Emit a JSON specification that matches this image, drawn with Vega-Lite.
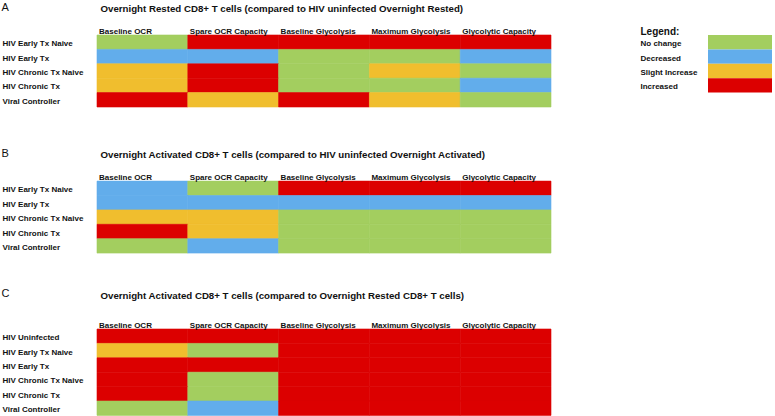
{
  "$schema": "https://vega.github.io/schema/vega-lite/v6.json",
  "background": "white",
  "padding": {"left": 1, "top": 1, "right": 0, "bottom": 0},
  "config": {
    "view": {"stroke": null},
    "font": "Liberation Sans",
    "axis": {"domain": false, "ticks": false, "grid": false, "labelFont": "Liberation Sans", "labelFontSize": 8, "labelFontWeight": "bold", "labelColor": "#111", "titleFont": "Liberation Sans", "titleColor": "#111"},
    "rect": {"strokeWidth": 0.6}
  },
  "datasets": {
    "rested": [
      {"group": "HIV Early Tx Naive", "metric": "Baseline OCR", "status": "No change"},
      {"group": "HIV Early Tx Naive", "metric": "Spare OCR Capacity", "status": "Increased"},
      {"group": "HIV Early Tx Naive", "metric": "Baseline Glycolysis", "status": "Increased"},
      {"group": "HIV Early Tx Naive", "metric": "Maximum Glycolysis", "status": "Increased"},
      {"group": "HIV Early Tx Naive", "metric": "Glycolytic Capacity", "status": "Increased"},
      {"group": "HIV Early Tx", "metric": "Baseline OCR", "status": "Decreased"},
      {"group": "HIV Early Tx", "metric": "Spare OCR Capacity", "status": "Decreased"},
      {"group": "HIV Early Tx", "metric": "Baseline Glycolysis", "status": "No change"},
      {"group": "HIV Early Tx", "metric": "Maximum Glycolysis", "status": "No change"},
      {"group": "HIV Early Tx", "metric": "Glycolytic Capacity", "status": "Decreased"},
      {"group": "HIV Chronic Tx Naive", "metric": "Baseline OCR", "status": "Slight Increase"},
      {"group": "HIV Chronic Tx Naive", "metric": "Spare OCR Capacity", "status": "Increased"},
      {"group": "HIV Chronic Tx Naive", "metric": "Baseline Glycolysis", "status": "No change"},
      {"group": "HIV Chronic Tx Naive", "metric": "Maximum Glycolysis", "status": "Slight Increase"},
      {"group": "HIV Chronic Tx Naive", "metric": "Glycolytic Capacity", "status": "No change"},
      {"group": "HIV Chronic Tx", "metric": "Baseline OCR", "status": "Slight Increase"},
      {"group": "HIV Chronic Tx", "metric": "Spare OCR Capacity", "status": "Increased"},
      {"group": "HIV Chronic Tx", "metric": "Baseline Glycolysis", "status": "No change"},
      {"group": "HIV Chronic Tx", "metric": "Maximum Glycolysis", "status": "No change"},
      {"group": "HIV Chronic Tx", "metric": "Glycolytic Capacity", "status": "Decreased"},
      {"group": "Viral Controller", "metric": "Baseline OCR", "status": "Increased"},
      {"group": "Viral Controller", "metric": "Spare OCR Capacity", "status": "Slight Increase"},
      {"group": "Viral Controller", "metric": "Baseline Glycolysis", "status": "Increased"},
      {"group": "Viral Controller", "metric": "Maximum Glycolysis", "status": "Slight Increase"},
      {"group": "Viral Controller", "metric": "Glycolytic Capacity", "status": "No change"}
    ],
    "activated": [
      {"group": "HIV Early Tx Naive", "metric": "Baseline OCR", "status": "Decreased"},
      {"group": "HIV Early Tx Naive", "metric": "Spare OCR Capacity", "status": "No change"},
      {"group": "HIV Early Tx Naive", "metric": "Baseline Glycolysis", "status": "Increased"},
      {"group": "HIV Early Tx Naive", "metric": "Maximum Glycolysis", "status": "Increased"},
      {"group": "HIV Early Tx Naive", "metric": "Glycolytic Capacity", "status": "Increased"},
      {"group": "HIV Early Tx", "metric": "Baseline OCR", "status": "Decreased"},
      {"group": "HIV Early Tx", "metric": "Spare OCR Capacity", "status": "Decreased"},
      {"group": "HIV Early Tx", "metric": "Baseline Glycolysis", "status": "Decreased"},
      {"group": "HIV Early Tx", "metric": "Maximum Glycolysis", "status": "Decreased"},
      {"group": "HIV Early Tx", "metric": "Glycolytic Capacity", "status": "Decreased"},
      {"group": "HIV Chronic Tx Naive", "metric": "Baseline OCR", "status": "Slight Increase"},
      {"group": "HIV Chronic Tx Naive", "metric": "Spare OCR Capacity", "status": "Slight Increase"},
      {"group": "HIV Chronic Tx Naive", "metric": "Baseline Glycolysis", "status": "No change"},
      {"group": "HIV Chronic Tx Naive", "metric": "Maximum Glycolysis", "status": "No change"},
      {"group": "HIV Chronic Tx Naive", "metric": "Glycolytic Capacity", "status": "No change"},
      {"group": "HIV Chronic Tx", "metric": "Baseline OCR", "status": "Increased"},
      {"group": "HIV Chronic Tx", "metric": "Spare OCR Capacity", "status": "Slight Increase"},
      {"group": "HIV Chronic Tx", "metric": "Baseline Glycolysis", "status": "No change"},
      {"group": "HIV Chronic Tx", "metric": "Maximum Glycolysis", "status": "No change"},
      {"group": "HIV Chronic Tx", "metric": "Glycolytic Capacity", "status": "No change"},
      {"group": "Viral Controller", "metric": "Baseline OCR", "status": "No change"},
      {"group": "Viral Controller", "metric": "Spare OCR Capacity", "status": "Decreased"},
      {"group": "Viral Controller", "metric": "Baseline Glycolysis", "status": "No change"},
      {"group": "Viral Controller", "metric": "Maximum Glycolysis", "status": "No change"},
      {"group": "Viral Controller", "metric": "Glycolytic Capacity", "status": "No change"}
    ],
    "actvsrest": [
      {"group": "HIV Uninfected", "metric": "Baseline OCR", "status": "Increased"},
      {"group": "HIV Uninfected", "metric": "Spare OCR Capacity", "status": "Increased"},
      {"group": "HIV Uninfected", "metric": "Baseline Glycolysis", "status": "Increased"},
      {"group": "HIV Uninfected", "metric": "Maximum Glycolysis", "status": "Increased"},
      {"group": "HIV Uninfected", "metric": "Glycolytic Capacity", "status": "Increased"},
      {"group": "HIV Early Tx Naive", "metric": "Baseline OCR", "status": "Slight Increase"},
      {"group": "HIV Early Tx Naive", "metric": "Spare OCR Capacity", "status": "No change"},
      {"group": "HIV Early Tx Naive", "metric": "Baseline Glycolysis", "status": "Increased"},
      {"group": "HIV Early Tx Naive", "metric": "Maximum Glycolysis", "status": "Increased"},
      {"group": "HIV Early Tx Naive", "metric": "Glycolytic Capacity", "status": "Increased"},
      {"group": "HIV Early Tx", "metric": "Baseline OCR", "status": "Increased"},
      {"group": "HIV Early Tx", "metric": "Spare OCR Capacity", "status": "Increased"},
      {"group": "HIV Early Tx", "metric": "Baseline Glycolysis", "status": "Increased"},
      {"group": "HIV Early Tx", "metric": "Maximum Glycolysis", "status": "Increased"},
      {"group": "HIV Early Tx", "metric": "Glycolytic Capacity", "status": "Increased"},
      {"group": "HIV Chronic Tx Naive", "metric": "Baseline OCR", "status": "Increased"},
      {"group": "HIV Chronic Tx Naive", "metric": "Spare OCR Capacity", "status": "No change"},
      {"group": "HIV Chronic Tx Naive", "metric": "Baseline Glycolysis", "status": "Increased"},
      {"group": "HIV Chronic Tx Naive", "metric": "Maximum Glycolysis", "status": "Increased"},
      {"group": "HIV Chronic Tx Naive", "metric": "Glycolytic Capacity", "status": "Increased"},
      {"group": "HIV Chronic Tx", "metric": "Baseline OCR", "status": "Increased"},
      {"group": "HIV Chronic Tx", "metric": "Spare OCR Capacity", "status": "No change"},
      {"group": "HIV Chronic Tx", "metric": "Baseline Glycolysis", "status": "Increased"},
      {"group": "HIV Chronic Tx", "metric": "Maximum Glycolysis", "status": "Increased"},
      {"group": "HIV Chronic Tx", "metric": "Glycolytic Capacity", "status": "Increased"},
      {"group": "Viral Controller", "metric": "Baseline OCR", "status": "No change"},
      {"group": "Viral Controller", "metric": "Spare OCR Capacity", "status": "Decreased"},
      {"group": "Viral Controller", "metric": "Baseline Glycolysis", "status": "Increased"},
      {"group": "Viral Controller", "metric": "Maximum Glycolysis", "status": "Increased"},
      {"group": "Viral Controller", "metric": "Glycolytic Capacity", "status": "Increased"}
    ],
    "legend": [
      {"status": "No change"},
      {"status": "Decreased"},
      {"status": "Slight Increase"},
      {"status": "Increased"}
    ]
  },
  "vconcat": [
    {
      "hconcat": [
        {
          "data": {"name": "rested"},
          "width": 454,
          "height": 72,
          "mark": "rect",
          "encoding": {
            "x": {"field": "metric", "type": "nominal", "sort": ["Baseline OCR", "Spare OCR Capacity", "Baseline Glycolysis", "Maximum Glycolysis", "Glycolytic Capacity"],
              "axis": {"orient": "top", "labelAngle": 0, "labelAlign": "left", "labelOffset": -43.4, "labelPadding": 0,
                "title": "Overnight Rested CD8+ T cells (compared to HIV uninfected Overnight Rested)", "titleFontSize": 9.7, "titleFontWeight": "bold", "titleAlign": "left", "titleAnchor": "start", "titleX": 3, "titleY": -27, "titleBaseline": "middle"}},
            "y": {"field": "group", "type": "nominal", "sort": ["HIV Early Tx Naive", "HIV Early Tx", "HIV Chronic Tx Naive", "HIV Chronic Tx", "Viral Controller"],
              "axis": {"labelAlign": "left", "labelPadding": 95, "labelOffset": 2, "title": "A", "titleAngle": 0, "titleX": -96, "titleY": -28, "titleAlign": "left", "titleBaseline": "middle", "titleFontSize": 11, "titleFontWeight": "normal"}},
            "color": {"field": "status", "type": "nominal", "scale": {"domain": ["No change", "Decreased", "Slight Increase", "Increased"], "range": ["#a3ce5f", "#62adeb", "#f0be2e", "#dc0000"]}, "legend": null},
            "stroke": {"field": "status", "type": "nominal", "scale": {"domain": ["No change", "Decreased", "Slight Increase", "Increased"], "range": ["#a3ce5f", "#62adeb", "#f0be2e", "#dc0000"]}, "legend": null}
          }
        },
        {
          "data": {"name": "legend"},
          "width": 64,
          "height": 57.6,
          "mark": "rect",
          "encoding": {
            "y": {"field": "status", "type": "nominal", "sort": ["No change", "Decreased", "Slight Increase", "Increased"],
              "axis": {"labelAlign": "left", "labelPadding": 68, "labelOffset": 2, "title": "Legend:", "titleAngle": 0, "titleX": -68, "titleY": -1, "titleAlign": "left", "titleBaseline": "alphabetic", "titleFontSize": 10, "titleFontWeight": "bold"}},
            "color": {"field": "status", "type": "nominal", "scale": {"domain": ["No change", "Decreased", "Slight Increase", "Increased"], "range": ["#a3ce5f", "#62adeb", "#f0be2e", "#dc0000"]}, "legend": null}
          }
        }
      ],
      "bounds": "flush",
      "spacing": 157
    },
    {
      "vconcat": [
        {
          "data": {"name": "activated"},
          "width": 454,
          "height": 72,
          "mark": "rect",
          "encoding": {
            "x": {"field": "metric", "type": "nominal", "sort": ["Baseline OCR", "Spare OCR Capacity", "Baseline Glycolysis", "Maximum Glycolysis", "Glycolytic Capacity"],
              "axis": {"orient": "top", "labelAngle": 0, "labelAlign": "left", "labelOffset": -43.4, "labelPadding": 0,
                "title": "Overnight Activated CD8+ T cells (compared to HIV uninfected Overnight Activated)", "titleFontSize": 9.7, "titleFontWeight": "bold", "titleAlign": "left", "titleAnchor": "start", "titleX": 3, "titleY": -26.4, "titleBaseline": "middle"}},
            "y": {"field": "group", "type": "nominal", "sort": ["HIV Early Tx Naive", "HIV Early Tx", "HIV Chronic Tx Naive", "HIV Chronic Tx", "Viral Controller"],
              "axis": {"labelAlign": "left", "labelPadding": 95, "labelOffset": 2, "title": "B", "titleAngle": 0, "titleX": -96, "titleY": -27.3, "titleAlign": "left", "titleBaseline": "middle", "titleFontSize": 11, "titleFontWeight": "normal"}},
            "color": {"field": "status", "type": "nominal", "scale": {"domain": ["No change", "Decreased", "Slight Increase", "Increased"], "range": ["#a3ce5f", "#62adeb", "#f0be2e", "#dc0000"]}, "legend": null},
            "stroke": {"field": "status", "type": "nominal", "scale": {"domain": ["No change", "Decreased", "Slight Increase", "Increased"], "range": ["#a3ce5f", "#62adeb", "#f0be2e", "#dc0000"]}, "legend": null}
          }
        },
        {
          "data": {"name": "actvsrest"},
          "width": 454,
          "height": 86.4,
          "mark": "rect",
          "encoding": {
            "x": {"field": "metric", "type": "nominal", "sort": ["Baseline OCR", "Spare OCR Capacity", "Baseline Glycolysis", "Maximum Glycolysis", "Glycolytic Capacity"],
              "axis": {"orient": "top", "labelAngle": 0, "labelAlign": "left", "labelOffset": -43.4, "labelPadding": 0,
                "title": "Overnight Activated CD8+ T cells (compared to Overnight Rested CD8+ T cells)", "titleFontSize": 9.7, "titleFontWeight": "bold", "titleAlign": "left", "titleAnchor": "start", "titleX": 3, "titleY": -33.4, "titleBaseline": "middle"}},
            "y": {"field": "group", "type": "nominal", "sort": ["HIV Uninfected", "HIV Early Tx Naive", "HIV Early Tx", "HIV Chronic Tx Naive", "HIV Chronic Tx", "Viral Controller"],
              "axis": {"labelAlign": "left", "labelPadding": 95, "labelOffset": 2, "title": "C", "titleAngle": 0, "titleX": -96, "titleY": -35.4, "titleAlign": "left", "titleBaseline": "middle", "titleFontSize": 11, "titleFontWeight": "normal"}},
            "color": {"field": "status", "type": "nominal", "scale": {"domain": ["No change", "Decreased", "Slight Increase", "Increased"], "range": ["#a3ce5f", "#62adeb", "#f0be2e", "#dc0000"]}, "legend": null},
            "stroke": {"field": "status", "type": "nominal", "scale": {"domain": ["No change", "Decreased", "Slight Increase", "Increased"], "range": ["#a3ce5f", "#62adeb", "#f0be2e", "#dc0000"]}, "legend": null}
          }
        }
      ],
      "spacing": 32.9
    }
  ],
  "spacing": 39.1
}
